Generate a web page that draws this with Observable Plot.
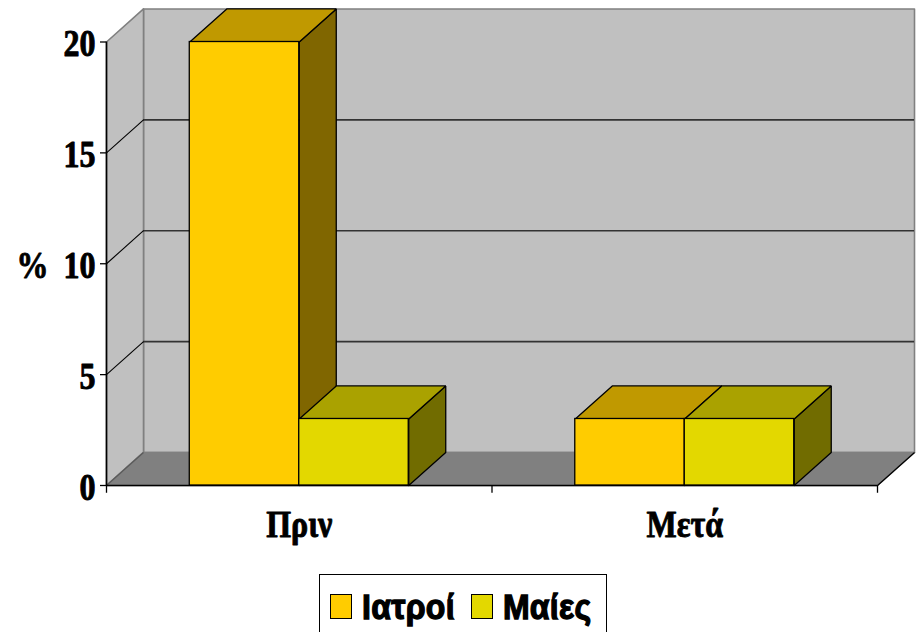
<!DOCTYPE html>
<html>
<head>
<meta charset="utf-8">
<script src="https://cdn.jsdelivr.net/npm/d3@7"></script>
<script src="https://cdn.jsdelivr.net/npm/@observablehq/plot@0.6"></script>
<style>
  html, body { margin: 0; padding: 0; background: #fff; }
  #wrap { position: relative; width: 920px; height: 632px; overflow: hidden; }
  #legend { position: absolute; left: 319px; top: 574px; width: 288px; height: 80px;
            border: 1px solid #000; background: #fff; box-sizing: border-box;
            display: flex; align-items: flex-start; padding: 16px 0 0 10px;
            font-family: "Liberation Sans", Arial, sans-serif; font-weight: 700; font-size: 32px; color: #000; }
  .item { display: flex; align-items: flex-start; margin-right: 16px; }
  .sw { width: 20px; height: 23px; border: 1px solid #000; margin: 2.5px 10px 0 0; }
  .lbl { display: inline-block; line-height: 32px; transform: scaleY(1.12); -webkit-text-stroke: 1.2px #000; letter-spacing: 0.3px; }
</style>
</head>
<body>
<div id="wrap">
  <div id="chart"></div>
  <div id="legend"></div>
</div>
<script>
// ---- data ----
const categories = ["Πριν", "Μετά"];
const seriesNames = ["Ιατροί", "Μαίες"];
const iatroi = [20, 3];
const maies = [3, 3];
const yTicks = [0, 5, 10, 15, 20];
const gridVals = [5, 10, 15];
const yMax = 20;

// ---- styles ----
const frontColors = ["#ffcc00", "#e3d800"];
const topColors = ["#c09900", "#aaa200"];
const sideColors = ["#806600", "#716c00"];

// depth of the pseudo-3D box (data units) and bar layout
const DX = 0.096, DY = 1.49;
const BAR_W = 0.284, PAD = (1 - 2 * BAR_W) / 2;
const TICK_X = 0.0156, TICK_Y = 0.35;
const nCat = categories.length;
const seriesValues = [iatroi, maies];

const bars = [];
categories.forEach((c, g) => seriesNames.forEach((s, k) => {
  const v = seriesValues[k][g];
  const x1 = g + PAD + k * BAR_W;
  bars.push({cat: c, series: s, k, v, x1, x2: x1 + BAR_W});
}));

const faces = [];
bars.forEach((b, i) => {
  const side = [[b.x2, 0], [b.x2, b.v], [b.x2 + DX, b.v + DY], [b.x2 + DX, DY], [b.x2, 0]];
  const top = [[b.x1, b.v], [b.x2, b.v], [b.x2 + DX, b.v + DY], [b.x1 + DX, b.v + DY], [b.x1, b.v]];
  side.forEach(([x, y]) => faces.push({id: "side" + i, x, y, fill: sideColors[b.k]}));
  top.forEach(([x, y]) => faces.push({id: "top" + i, x, y, fill: topColors[b.k]}));
});

const walls = [
  {id: "back", fill: "#c0c0c0", pts: [[DX, DY], [nCat + DX, DY], [nCat + DX, yMax + DY], [DX, yMax + DY], [DX, DY]]},
  {id: "left", fill: "#c0c0c0", pts: [[0, 0], [0, yMax], [DX, yMax + DY], [DX, DY], [0, 0]]},
  {id: "floor", fill: "#808080", pts: [[0, 0], [nCat, 0], [nCat + DX, DY], [DX, DY], [0, 0]]}
];
const wallPts = walls.flatMap(w => w.pts.map(([x, y]) => ({id: w.id, fill: w.fill, x, y})));

const serif = "'Liberation Serif', 'Times New Roman', serif";
const textStyle = {fontSize: 32, fontWeight: "bold", fontFamily: serif, fill: "#000", stroke: "#000", strokeWidth: 0.8};

const chart = Plot.plot({
  width: 920,
  height: 632,
  marginLeft: 106,
  marginRight: 43,
  marginTop: 41.5,
  marginBottom: 147,
  x: {type: "linear", domain: [0, nCat], axis: null},
  y: {type: "linear", domain: [0, yMax], axis: null},
  color: {type: "identity"},
  style: {background: "white", overflow: "visible", fontFamily: serif},
  marks: [
    Plot.line(wallPts, {x: "x", y: "y", z: "id", fill: "fill", stroke: "#808080", strokeWidth: 1.6, curve: "linear"}),
    Plot.link([0], {x1: 0, y1: 0, x2: DX, y2: DY, stroke: "#5a5a5a", strokeWidth: 1.2}),
    Plot.ruleY(gridVals, {y: d => d + DY, x1: DX, x2: nCat + DX, stroke: "#333", strokeWidth: 1.6}),
    Plot.link(gridVals, {x1: 0, y1: d => d, x2: DX, y2: d => d + DY, stroke: "#000", strokeWidth: 1.1}),
    Plot.ruleY([0], {x1: 0, x2: nCat, stroke: "#000", strokeWidth: 1.6}),
    Plot.link([0], {x1: nCat, y1: 0, x2: nCat + DX, y2: DY, stroke: "#000", strokeWidth: 1.2}),
    Plot.line(faces, {x: "x", y: "y", z: "id", fill: "fill", stroke: "#000", strokeWidth: 1.3, curve: "linear", strokeLinejoin: "miter"}),
    Plot.rect(bars, {x1: "x1", x2: "x2", y1: 0, y2: "v", fill: d => frontColors[d.k], stroke: "#000", strokeWidth: 1.3}),
    Plot.ruleX([0], {y1: 0, y2: yMax, stroke: "#000", strokeWidth: 1.6}),
    Plot.ruleY(yTicks, {y: d => d, x1: -TICK_X, x2: 0, stroke: "#000", strokeWidth: 1.3}),
    Plot.ruleX(d3.range(nCat + 1), {x: d => d, y1: 0, y2: -TICK_Y, stroke: "#000", strokeWidth: 1.3}),
    Plot.text(yTicks, {x: 0, y: d => d, text: d => String(d), textAnchor: "end", dx: -11, dy: 2, ...textStyle}),
    Plot.text(categories, {x: (d, i) => i + 0.5, y: 0, text: d => d, dy: 39, ...textStyle}),
    Plot.text(["%"], {frameAnchor: "left", textAnchor: "middle", text: d => d, dx: -74, dy: 2, ...textStyle})
  ]
});

document.getElementById("chart").appendChild(chart);

// vertical stretch of text (to mimic the reference's tall glyphs)
const S = 1.16;
d3.select(chart).selectAll("text").each(function () {
  const b = this.getBBox();
  const cy = b.y + b.height / 2;
  const t = this.getAttribute("transform") || "";
  this.setAttribute("transform", `${t} translate(0,${cy}) scale(1,${S}) translate(0,${-cy})`);
});

// legend
const legend = d3.select("#legend");
seriesNames.forEach((name, k) => {
  const it = legend.append("div").attr("class", "item");
  it.append("div").attr("class", "sw").style("background", frontColors[k]);
  it.append("span").attr("class", "lbl").text(name);
});
</script>
</body>
</html>
